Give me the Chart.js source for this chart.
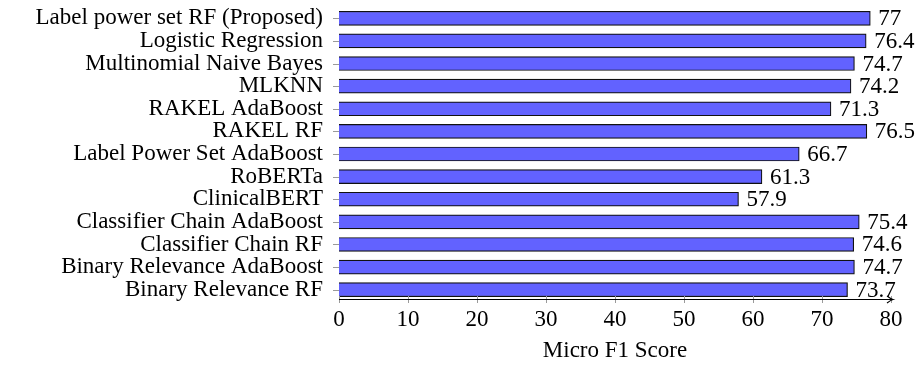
<!DOCTYPE html>
<html>
<head>
<meta charset="utf-8">
<script src="https://cdn.jsdelivr.net/npm/chart.js@4.4.1/dist/chart.umd.min.js"></script>
<style>
  html, body { margin: 0; padding: 0; background: #fff; }
  canvas { display: block; }
</style>
</head>
<body>
<canvas id="canvas" width="923" height="365"></canvas>
<script>
const methods = [
  'Label power set RF (Proposed)',
  'Logistic Regression',
  'Multinomial Naive Bayes',
  'MLKNN',
  'RAKEL AdaBoost',
  'RAKEL RF',
  'Label Power Set AdaBoost',
  'RoBERTa',
  'ClinicalBERT',
  'Classifier Chain AdaBoost',
  'Classifier Chain RF',
  'Binary Relevance AdaBoost',
  'Binary Relevance RF',
]
const microF1 = [77, 76.4, 74.7, 74.2, 71.3, 76.5, 66.7, 61.3, 57.9, 75.4, 74.6, 74.7, 73.7]
const xMin = 0
const xMax = 80
const xStep = 10
const xTitle = 'Micro F1 Score'

const FONT = 'Liberation Serif'
const FS = 23
Chart.defaults.color = '#000'
Chart.defaults.font.family = FONT

// pgfplots style axis: x line with arrow, small grey ticks, value labels at bar ends
const pgfAxis = {
  id: 'pgfAxis',
  afterDatasetsDraw(chart) {
    const ctx = chart.ctx
    const area = chart.chartArea
    const xs = chart.scales.x
    const ys = chart.scales.y
    const axisY = area.bottom - 2

    ctx.save()
    // ticks
    ctx.strokeStyle = '#9a9a9a'
    ctx.lineWidth = 1
    xs.ticks.forEach(t => {
      const px = Math.round(xs.getPixelForValue(t.value)) + 0.5
      ctx.beginPath()
      ctx.moveTo(px, axisY - 3)
      ctx.lineTo(px, axisY + 4)
      ctx.stroke()
    })
    methods.forEach((m, i) => {
      const py = Math.round(ys.getPixelForValue(i)) + 0.5
      ctx.beginPath()
      ctx.moveTo(area.left - 6, py)
      ctx.lineTo(area.left, py)
      ctx.stroke()
    })

    // x axis line with arrow
    const tipX = area.right + 2
    ctx.strokeStyle = '#000'
    ctx.lineWidth = 1.2
    ctx.beginPath()
    ctx.moveTo(area.left, axisY + 0.5)
    ctx.lineTo(tipX, axisY + 0.5)
    ctx.stroke()
    ctx.beginPath()
    ctx.moveTo(tipX - 6, axisY - 3)
    ctx.quadraticCurveTo(tipX - 2, axisY, tipX, axisY + 0.5)
    ctx.quadraticCurveTo(tipX - 2, axisY + 1, tipX - 6, axisY + 4)
    ctx.stroke()

    // value labels
    const meta = chart.getDatasetMeta(0)
    ctx.fillStyle = '#000'
    ctx.font = FS + 'px "' + FONT + '"'
    ctx.textAlign = 'left'
    ctx.textBaseline = 'alphabetic'
    meta.data.forEach((bar, i) => {
      ctx.fillText(String(microF1[i]), bar.x + 8, bar.y + 7)
    })
    ctx.restore()
  }
}

const data = {
  labels: methods,
  datasets: [
    {
      label: xTitle,
      data: microF1,
      backgroundColor: 'rgb(98, 98, 255)',
      borderColor: '#111',
      borderWidth: 1.2,
      barThickness: 14,
    },
  ],
}

const config = {
  type: 'bar',
  data: data,
  options: {
    indexAxis: 'y',
    responsive: false,
    animation: false,
    layout: { padding: { top: 7, right: 32, left: 0, bottom: 0 } },
    plugins: {
      legend: { display: false },
      tooltip: { enabled: false },
    },
    scales: {
      x: {
        min: xMin,
        max: xMax,
        grid: { display: false, drawTicks: false },
        border: { display: false },
        ticks: { stepSize: xStep, padding: 5, font: { size: FS } },
        title: { display: true, text: xTitle, font: { size: FS }, padding: { top: 0, bottom: 0 } },
        afterFit(scale) {
          scale.height = 64
          scale.paddingLeft = 0
          scale.paddingRight = 0
        },
      },
      y: {
        grid: { display: false, drawTicks: false },
        border: { display: false },
        ticks: { padding: 16, font: { size: FS }, autoSkip: false },
        afterFit(scale) {
          scale.width = 339
          scale.paddingTop = 0
          scale.paddingBottom = 0
        },
      },
    },
  },
  plugins: [pgfAxis],
}

const canvas = document.getElementById('canvas')
const chart = new Chart(canvas, config)
</script>
</body>
</html>
